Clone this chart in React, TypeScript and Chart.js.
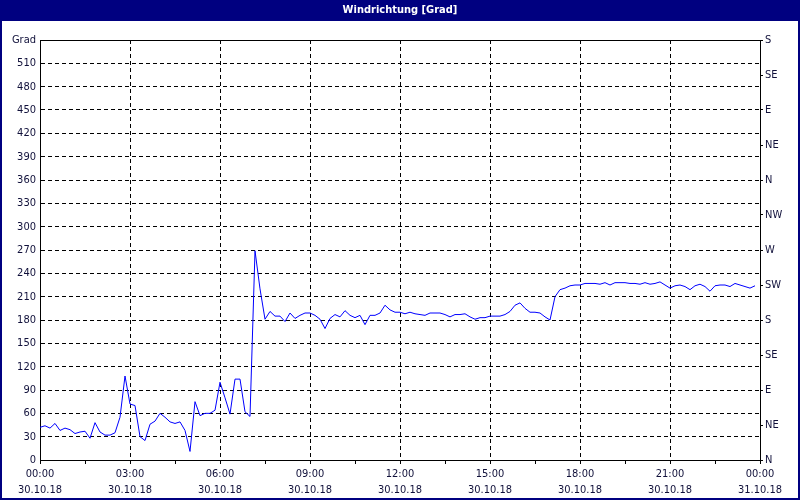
import React, { useEffect, useRef } from 'react';
import { Chart, registerables } from 'chart.js';

Chart.register(...registerables);

const TITLE = 'Windrichtung [Grad]';
const STEP_MINUTES = 10;

// wind direction in degrees, one reading every 10 minutes from 30.10.18 00:00
const windDir = [
  42, 44, 41, 47, 38, 41, 39, 34, 36, 37, 28, 48, 36, 32, 32, 35, 55, 108, 72, 70,
  30, 25, 46, 50, 60, 55, 49, 47, 49, 38, 11, 75, 57, 60, 60, 64, 100, 80, 59, 104,
  104, 62, 56, 269, 220, 181, 191, 185, 185, 178, 189, 182, 186, 189, 189, 186, 181, 169, 182, 187,
  184, 192, 186, 183, 186, 174, 186, 186, 189, 199, 193, 190, 190, 188, 190, 188, 187, 186, 189, 189,
  189, 187, 184, 187, 187, 188, 184, 181, 183, 183, 185, 185, 185, 187, 191, 199, 202, 195, 190, 190,
  189, 184, 180, 210, 219, 221, 224, 225, 225, 227, 227, 227, 226, 228, 225, 228, 228, 228, 227, 227,
  226, 228, 226, 227, 229, 225, 221, 224, 225, 223, 219, 224, 226, 223, 217, 224, 225, 225, 223, 227,
  225, 223, 221, 224,
];

const xTimeLabels = ['00:00', '03:00', '06:00', '09:00', '12:00', '15:00', '18:00', '21:00', '00:00'];
const xDateLabels = ['30.10.18', '30.10.18', '30.10.18', '30.10.18', '30.10.18', '30.10.18', '30.10.18', '30.10.18', '31.10.18'];
const yLeftUnit = 'Grad';
const compassLabels = ['N', 'NE', 'E', 'SE', 'S', 'SW', 'W', 'NW', 'N', 'NE', 'E', 'SE', 'S'];

const FONT = "'Liberation Sans Narrow', 'DejaVu Sans Condensed', 'Liberation Sans', sans-serif";
const TEXT_COLOR = '#10103a';

const framePlugin = {
  id: 'frame',
  beforeDraw(chart: any) {
    const { ctx, width } = chart;
    ctx.save();
    ctx.fillStyle = '#ffffff';
    ctx.fillRect(0, 0, chart.width, chart.height);
    ctx.fillStyle = '#000080';
    ctx.fillRect(0, 0, width, 21);
    ctx.restore();
  },
  afterDraw(chart: any) {
    const { ctx, chartArea: a, width, height } = chart;
    ctx.save();
    ctx.strokeStyle = '#000000';
    ctx.lineWidth = 1;
    ctx.beginPath();
    ctx.moveTo(a.left, Math.round(a.top) + 0.5);
    ctx.lineTo(a.right, Math.round(a.top) + 0.5);
    ctx.stroke();
    ctx.strokeStyle = '#000080';
    ctx.lineWidth = 2;
    ctx.strokeRect(1, 1, width - 2, height - 2);
    ctx.restore();
  },
};

export default function App() {
  const ref = useRef<HTMLCanvasElement | null>(null);

  useEffect(() => {
    if (!ref.current) return;
    const points = windDir.map((v, i) => ({ x: i * STEP_MINUTES, y: v }));
    const chart = new Chart(ref.current, {
      type: 'line',
      data: {
        datasets: [
          {
            label: TITLE,
            data: points,
            borderColor: '#0000ff',
            borderWidth: 1,
            pointRadius: 0,
            tension: 0,
            fill: false,
            yAxisID: 'y',
          },
        ],
      },
      options: {
        responsive: false,
        animation: false,
        layout: { padding: 0 },
        plugins: {
          legend: { display: false },
          tooltip: { enabled: false },
          title: {
            display: true,
            text: TITLE,
            color: '#ffffff',
            font: { family: FONT, size: 11, weight: 'bold', lineHeight: 1.2 },
            padding: { top: 3.5, bottom: 23.3 },
          },
        },
        scales: {
          x: {
            type: 'linear',
            min: 0,
            max: 1440,
            afterFit(scale: any) {
              scale.height = 40;
            },
            afterBuildTicks(scale: any) {
              const t = [];
              for (let m = 0; m <= 1440; m += 90) t.push({ value: m });
              scale.ticks = t;
            },
            ticks: {
              autoSkip: false,
              maxRotation: 0,
              padding: 2,
              color: TEXT_COLOR,
              font: { family: FONT, size: 11, lineHeight: 1.45 },
              callback: (value: any) => {
                const v = Number(value);
                if (v % 180 !== 0) return '';
                const k = v / 180;
                return [xTimeLabels[k], xDateLabels[k]];
              },
            },
            grid: {
              display: true,
              drawOnChartArea: true,
              drawTicks: true,
              tickLength: 4,
              tickColor: '#000000',
              color: (c: any) => {
                const v = c.tick ? c.tick.value : 0;
                return v % 180 === 0 ? '#000000' : 'rgba(0,0,0,0)';
              },
              lineWidth: 1,
            },
            border: { display: true, color: '#000000', width: 1, dash: [4, 3] },
          },
          y: {
            type: 'linear',
            position: 'left',
            min: 0,
            max: 540,
            afterFit(scale: any) {
              scale.width = 40;
            },
            ticks: {
              stepSize: 30,
              autoSkip: false,
              padding: 4,
              color: TEXT_COLOR,
              font: { family: FONT, size: 11 },
              callback: (value: any) => (Number(value) === 540 ? yLeftUnit : String(value)),
            },
            grid: {
              display: true,
              drawOnChartArea: true,
              drawTicks: false,
              color: '#000000',
              lineWidth: 1,
            },
            border: { display: true, color: '#000000', width: 1, dash: [4, 3] },
          },
          y2: {
            type: 'linear',
            position: 'right',
            min: 0,
            max: 540,
            afterFit(scale: any) {
              scale.width = 40;
            },
            ticks: {
              stepSize: 45,
              autoSkip: false,
              padding: 2,
              color: TEXT_COLOR,
              font: { family: FONT, size: 11 },
              callback: (value: any) => compassLabels[Math.round(Number(value) / 45)] ?? '',
            },
            grid: {
              display: true,
              drawOnChartArea: false,
              drawTicks: true,
              tickLength: 3,
              tickColor: '#000000',
            },
            border: { display: true, color: '#000000', width: 1 },
          },
        },
      },
      plugins: [framePlugin],
    } as any);
    return () => chart.destroy();
  }, []);

  return (
    <div style={{ position: 'fixed', left: 0, top: 0, width: 800, height: 500 }}>
      <canvas ref={ref} width={800} height={500} style={{ display: 'block' }} />
    </div>
  );
}
